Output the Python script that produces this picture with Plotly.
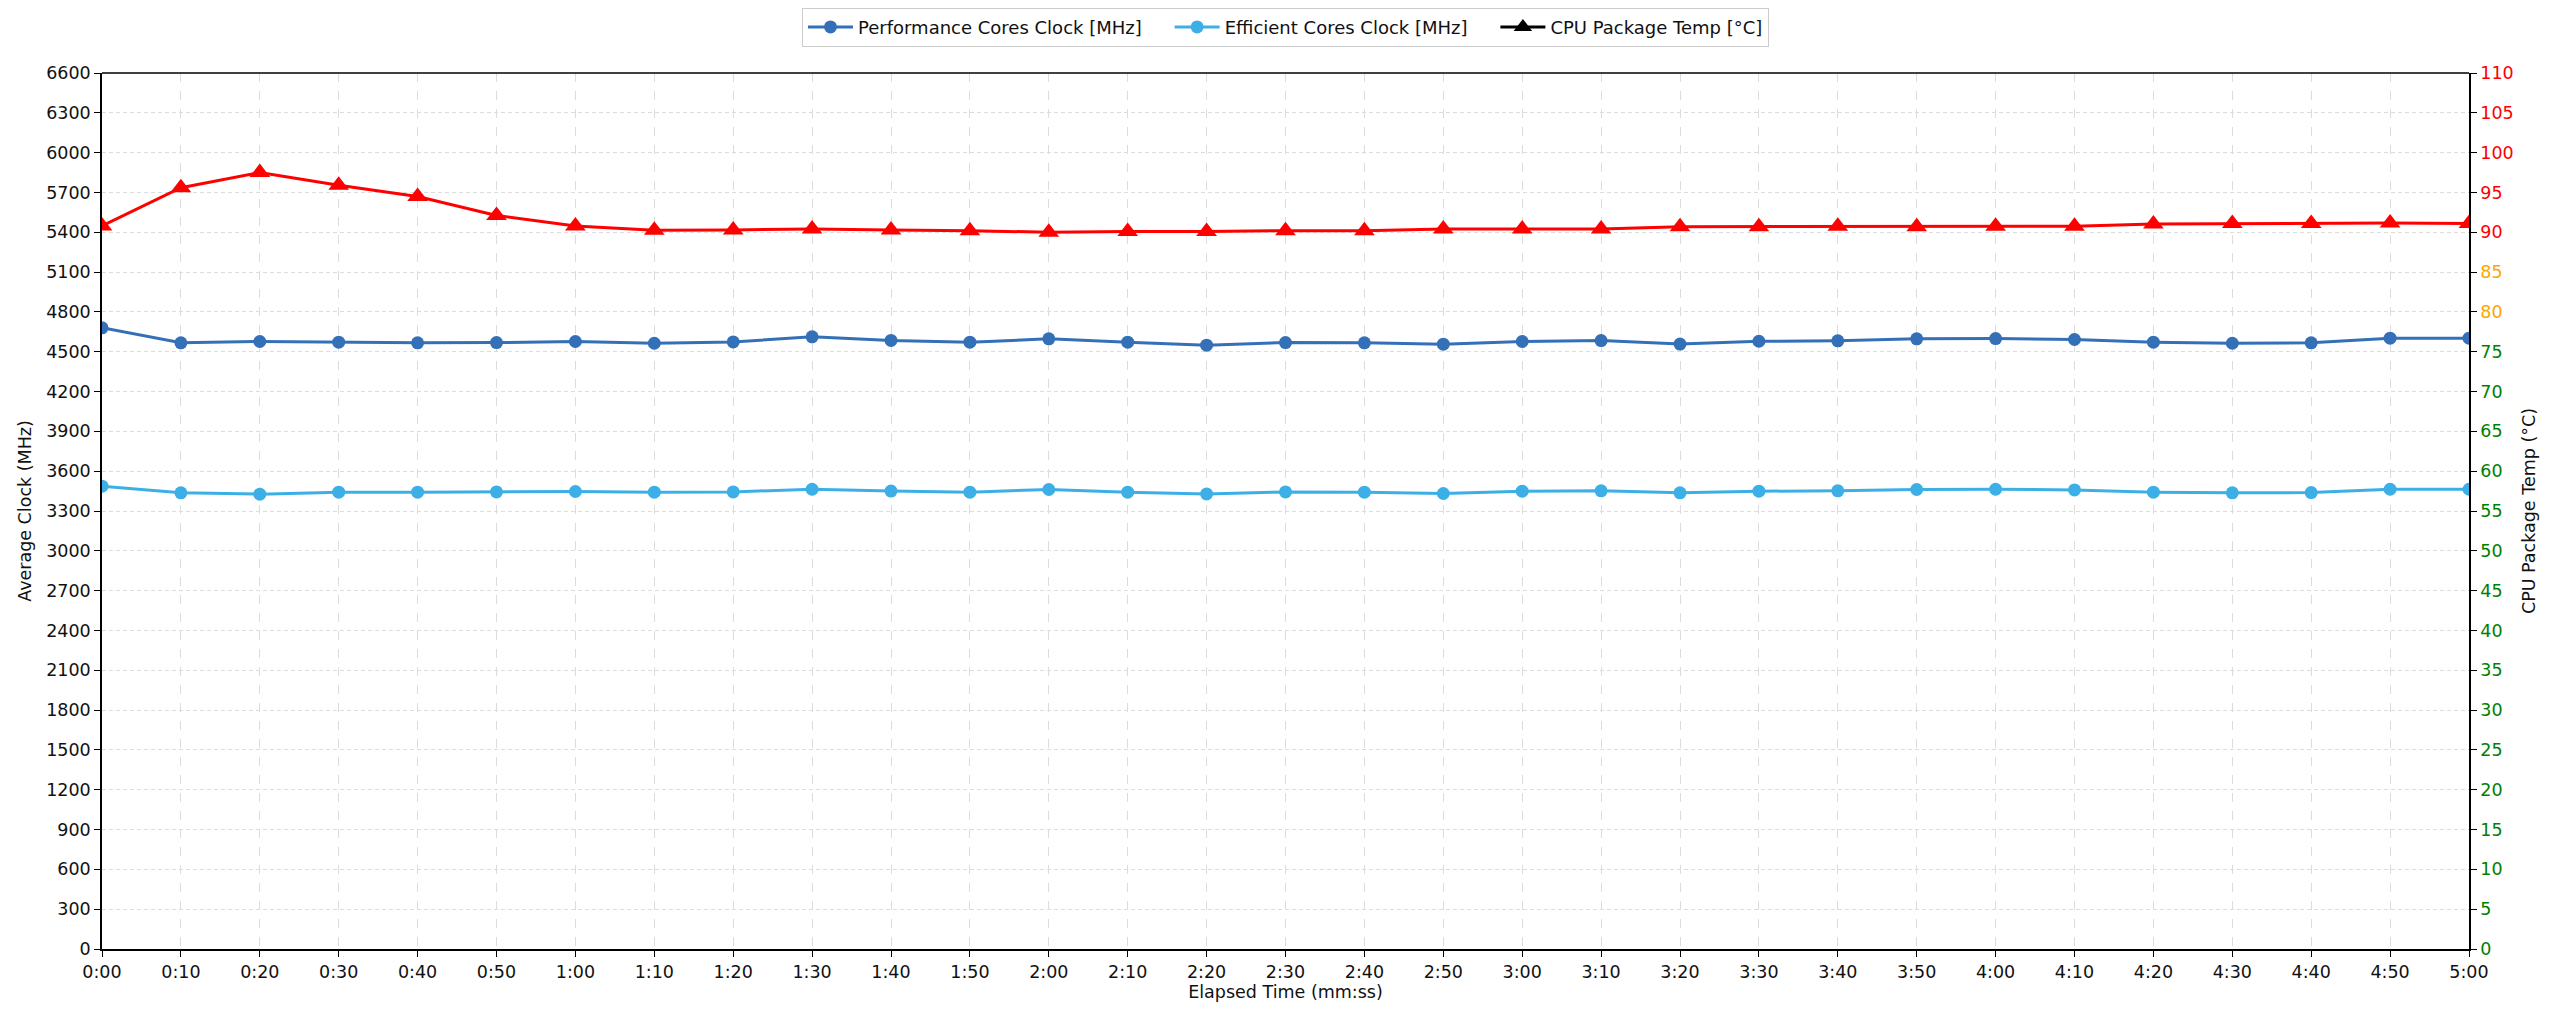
import plotly.graph_objects as go

# elapsed time (mm:ss), one sample every 10 s
time_labels = ["0:00", "0:10", "0:20", "0:30", "0:40", "0:50",
               "1:00", "1:10", "1:20", "1:30", "1:40", "1:50",
               "2:00", "2:10", "2:20", "2:30", "2:40", "2:50",
               "3:00", "3:10", "3:20", "3:30", "3:40", "3:50",
               "4:00", "4:10", "4:20", "4:30", "4:40", "4:50", "5:00"]

p_clock = [4680, 4567, 4577, 4572, 4567, 4569, 4577, 4564, 4574, 4612, 4585,
           4572, 4597, 4572, 4549, 4569, 4567, 4557, 4577, 4584, 4558,
           4579, 4582, 4597, 4599, 4592, 4572, 4564, 4567, 4602, 4602]

e_clock = [3487, 3437, 3427, 3442, 3442, 3444, 3447, 3442, 3444, 3464, 3450,
           3442, 3462, 3442, 3429, 3444, 3442, 3432, 3449, 3452, 3437,
           3449, 3452, 3462, 3464, 3459, 3442, 3437, 3439, 3464, 3464]

cpu_temp = [90.8, 95.6, 97.5, 95.9, 94.5, 92.1, 90.8, 90.25, 90.3, 90.4, 90.3,
            90.2, 90.0, 90.1, 90.1, 90.2, 90.2, 90.4, 90.4, 90.4, 90.7,
            90.7, 90.75, 90.7, 90.75, 90.75, 91.05, 91.1, 91.1, 91.15, 91.1]

clock_ticks = [0, 300, 600, 900, 1200, 1500, 1800, 2100, 2400, 2700, 3000, 3300,
               3600, 3900, 4200, 4500, 4800, 5100, 5400, 5700, 6000, 6300, 6600]
temp_ticks = [0, 5, 10, 15, 20, 25, 30, 35, 40, 45, 50, 55,
              60, 65, 70, 75, 80, 85, 90, 95, 100, 105, 110]

P_COLOR = "#3470b8"
E_COLOR = "#3cb0e6"
FONT = "DejaVu Sans"
FS = 17.5
PAD = "&nbsp;" * 4


def temp_color(t):
    if t >= 90:
        return "#ff0000"
    if t >= 80:
        return "#ffa500"
    return "#008000"


temp_text = [f"<span style='color:{temp_color(t)}'>{t}</span>" for t in temp_ticks]

fig = go.Figure()

fig.add_trace(go.Scatter(
    x=time_labels, y=p_clock, name="Performance Cores Clock [MHz]" + PAD,
    mode="lines+markers", line=dict(color=P_COLOR, width=3),
    marker=dict(symbol="circle", size=13, color=P_COLOR)))

fig.add_trace(go.Scatter(
    x=time_labels, y=e_clock, name="Efficient Cores Clock [MHz]" + PAD,
    mode="lines+markers", line=dict(color=E_COLOR, width=3),
    marker=dict(symbol="circle", size=13, color=E_COLOR)))

fig.add_trace(go.Scatter(
    x=time_labels, y=cpu_temp, name="CPU Package Temp [°C]", yaxis="y2",
    mode="lines+markers", line=dict(color="#ff0000", width=3),
    marker=dict(symbol="triangle-up", size=18, color="#ff0000"),
    showlegend=False))

# legend proxy: the temperature entry is drawn in black
fig.add_trace(go.Scatter(
    x=[None], y=[None], name="CPU Package Temp [°C]", yaxis="y2",
    mode="lines+markers", line=dict(color="black", width=3),
    marker=dict(symbol="triangle-up", size=16, color="black")))

axis_common = dict(
    showline=True, linecolor="black", linewidth=1.5, mirror=False,
    ticks="outside", ticklen=6, tickwidth=1.2, tickcolor="black",
    tickfont=dict(family=FONT, size=FS, color="#111111"),
    zeroline=False,
)

# the page body adds an 8px offset, so the figure is slightly smaller than the window
fig.update_layout(
    width=2544, height=1008,
    margin=dict(l=94, r=83, t=65, b=67, autoexpand=False),
    paper_bgcolor="white", plot_bgcolor="white",
    font=dict(family=FONT, size=FS, color="#111111"),
    xaxis=dict(
        type="category", range=[0, len(time_labels) - 1],
        title=dict(text="Elapsed Time (mm:ss)", font=dict(family=FONT, size=FS), standoff=5),
        showgrid=True, gridcolor="#dcdcdc", gridwidth=1, griddash="dash",
        **axis_common),
    yaxis=dict(
        range=[0, 6600], tickvals=clock_ticks,
        title=dict(text="Average Clock (MHz)", font=dict(family=FONT, size=FS), standoff=10),
        showgrid=True, gridcolor="#dcdcdc", gridwidth=1, griddash="4px,3px",
        **axis_common),
    yaxis2=dict(
        overlaying="y", side="right", range=[0, 110],
        tickvals=temp_ticks, ticktext=temp_text,
        title=dict(text="CPU Package Temp (°C)", font=dict(family=FONT, size=FS), standoff=10),
        showgrid=False,
        **axis_common),
    legend=dict(
        orientation="h", x=0.5, xanchor="center", y=1.03, yanchor="bottom",
        bordercolor="#cccccc", borderwidth=1, bgcolor="white",
        itemwidth=45,
        font=dict(family=FONT, size=18, color="#111111")),
    shapes=[
        dict(type="line", xref="paper", yref="paper", x0=0, x1=1, y0=1, y1=1,
             line=dict(color="black", width=1.5)),
    ],
)

fig.write_html("out.html")
